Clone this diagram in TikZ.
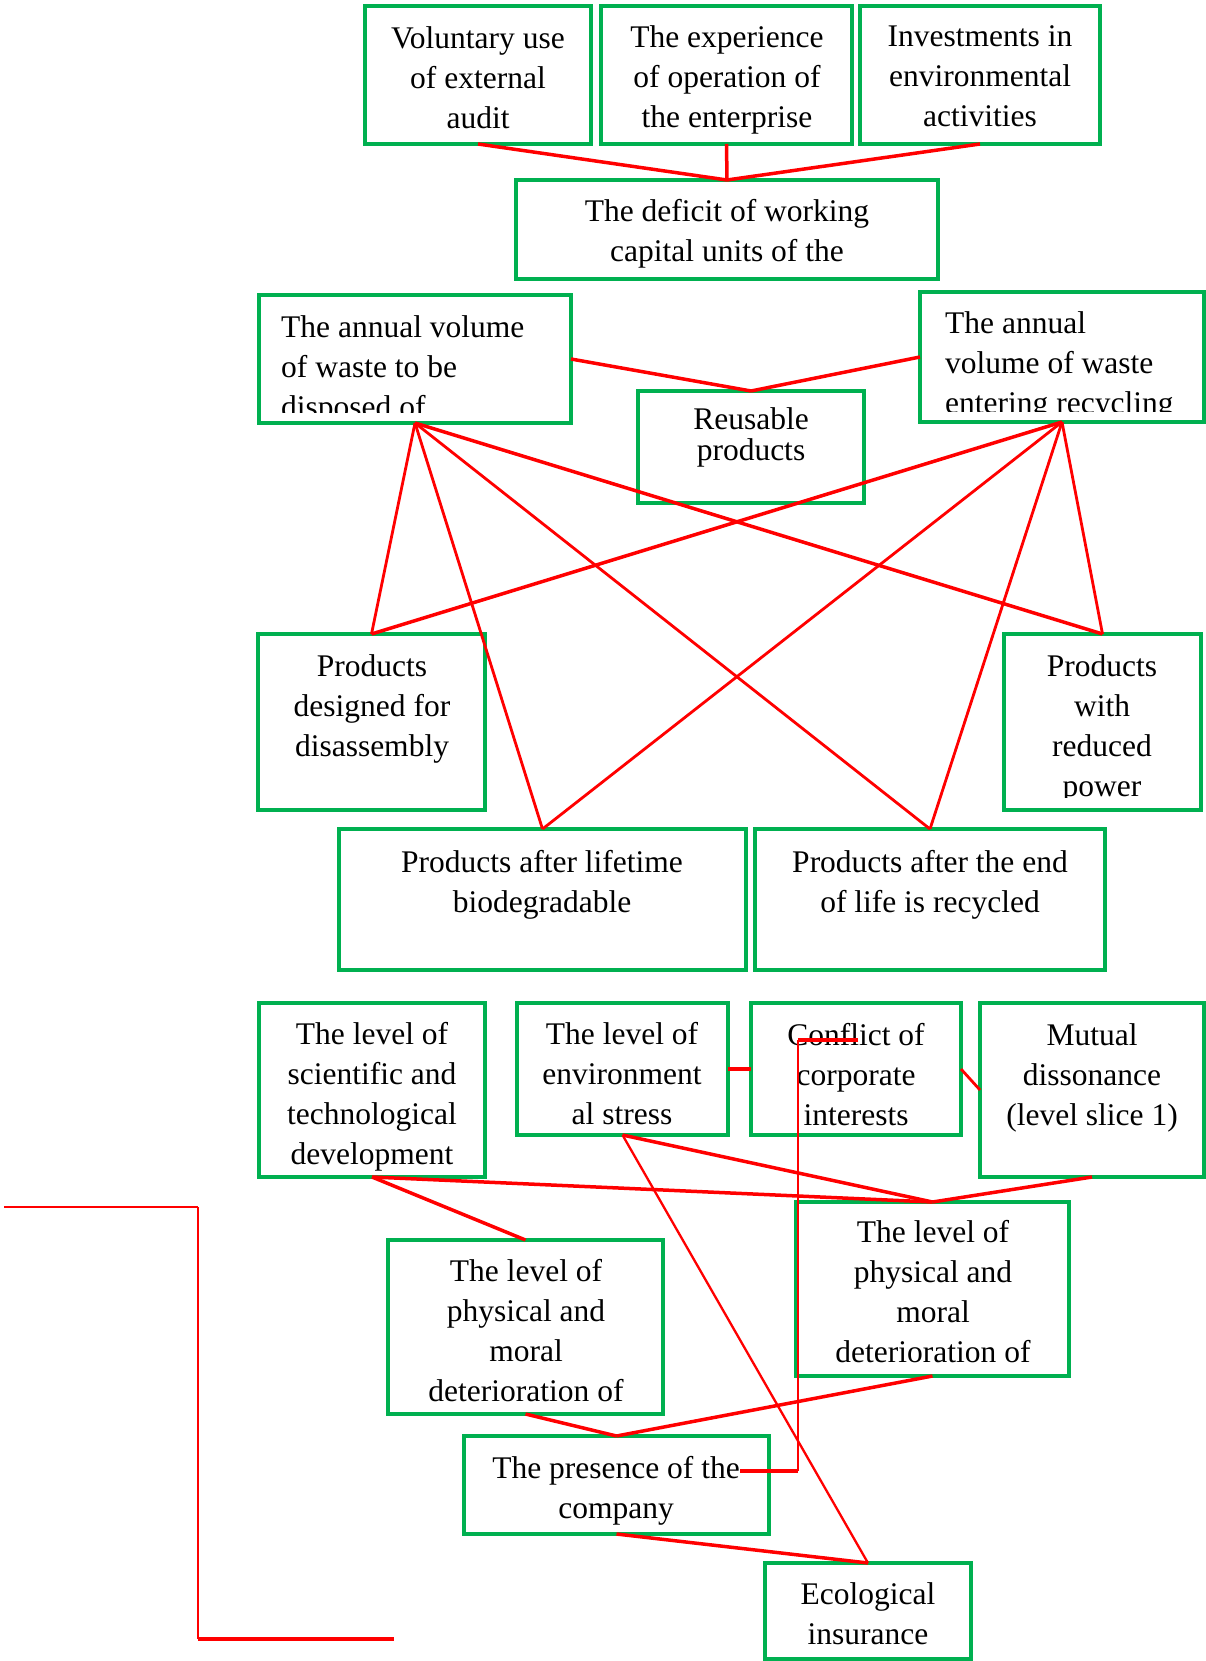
\documentclass[tikz,border=0pt]{standalone}
\usepackage{fontspec}
\setmainfont{Liberation Serif}
\usetikzlibrary{fit}
\definecolor{bgreen}{RGB}{0,176,80}
\begin{document}
\begin{tikzpicture}[x=1pt,y=-1pt,
  box/.style={draw=bgreen, line width=3.5pt, inner sep=0pt, outer sep=0pt},
  txt/.style={align=center, inner sep=0pt, font=\fontsize{31.5}{40}\selectfont},
  link/.style={draw=red, line width=3.5pt},
  midlink/.style={draw=red, line width=2.8pt},
  thinlink/.style={draw=red, line width=2.3pt}]
\useasboundingbox (0,0) rectangle (1206,1661);
% boxes
\node[box, fit={(365,6) (591,144)}] (A) {};
\node[box, fit={(601,6) (852,144)}] (B) {};
\node[box, fit={(860,6) (1100,144)}] (C) {};
\node[box, fit={(516,180) (938,279)}] (D) {};
\node[box, fit={(259,295) (571,423)}] (E) {};
\node[box, fit={(920,292) (1204,422)}] (F) {};
\node[box, fit={(638,391) (864,503)}] (G) {};
\node[box, fit={(258,634) (485,810)}] (H) {};
\node[box, fit={(1004,634) (1201,810)}] (K) {};
\node[box, fit={(339,829) (746,970)}] (I) {};
\node[box, fit={(755,829) (1105,970)}] (J) {};
\node[box, fit={(259,1003) (485,1177)}] (L) {};
\node[box, fit={(517,1003) (728,1135)}] (M) {};
\node[box, fit={(751,1003) (961,1135)}] (N) {};
\node[box, fit={(980,1003) (1204,1177)}] (O) {};
\node[box, fit={(796,1202) (1069,1376)}] (Q) {};
\node[box, fit={(388,1240) (663,1414)}] (P) {};
\node[box, fit={(464,1436) (769,1534)}] (R) {};
\node[box, fit={(765,1563) (971,1659)}] (S) {};
% texts
\node[txt] (At) at (478,78) {Voluntary use\\of external\\audit};
\node[txt] (Bt) at (727,80) {The experience\\of operation of\\the enterprise};
\node[txt] (Ct) at (980,76) {Investments in\\environmental\\activities};
\node[txt] (Dt) at (727,234) {The deficit of working\\capital units of the};
\begin{scope}
\clip (259,295) rectangle (571,412);
\node[txt, align=left, anchor=west] (Et) at (281,370) {The annual volume\\of waste to be\\disposed of};
\end{scope}
\begin{scope}
\clip (920,292) rectangle (1204,411);
\node[txt, align=left, anchor=west] (Ft) at (945,366) {The annual\\volume of waste\\entering recycling};
\end{scope}
\node[txt, font=\fontsize{31.5}{31}\selectfont] (Gt) at (751,437) {Reusable\\products};
\node[txt] (Ht) at (372,709) {Products\\designed for\\disassembly};
\begin{scope}
\clip (1004,634) rectangle (1201,797);
\node[txt] (Kt) at (1102,729) {Products\\with\\reduced\\power};
\end{scope}
\node[txt] (It) at (542,885) {Products after lifetime\\biodegradable};
\node[txt] (Jt) at (930,885) {Products after the end\\of life is recycled};
\node[txt] (Lt) at (372,1097) {The level of\\scientific and\\technological\\development};
\node[txt] (Mt) at (622,1074) {The level of\\environment\\al stress};
\node[txt] (Nt) at (856,1075) {Conflict of\\corporate\\interests};
\node[txt] (Ot) at (1092,1078) {Mutual\\dissonance\\(level slice 1)};
\node[txt] (Qt) at (933,1292) {The level of\\physical and\\moral\\deterioration of};
\node[txt] (Pt) at (526,1331) {The level of\\physical and\\moral\\deterioration of};
\node[txt] (Rt) at (616,1491) {The presence of the\\company};
\node[txt] (St) at (868,1614) {Ecological\\insurance};
% connectors
\draw[link] (A.south) -- (D.north);
\draw[link] (B.south) -- (D.north);
\draw[link] (C.south) -- (D.north);
\draw[link] (E.east) -- (G.north);
\draw[link] (F.west) -- (G.north);
\draw[midlink] (E.south) -- (H.north);
\draw[midlink] (E.south) -- (I.north);
\draw[midlink] (E.south) -- (J.north);
\draw[link] (E.south) -- (K.north);
\draw[link] (F.south) -- (H.north);
\draw[midlink] (F.south) -- (I.north);
\draw[midlink] (F.south) -- (J.north);
\draw[midlink] (F.south) -- (K.north);
\draw[link] (M.east) -- (N.west);
\draw[midlink] (N.east) -- (O.west);
\draw[link] (L.south) -- (Q.north);
\draw[link] (L.south) -- (P.north);
\draw[link] (M.south) -- (Q.north);
\draw[thinlink] (M.south) -- (S.north);
\draw[link] (O.south) -- (Q.north);
\draw[link] (P.south) -- (R.north);
\draw[link] (Q.south) -- (R.north);
\draw[link] (R.south) -- (S.north);
% free elbows
\coordinate (e1a) at (858,1040);
\coordinate (e1b) at (798,1040);
\coordinate (e1c) at (798,1471);
\coordinate (e1d) at (740,1471);
\draw[link] (e1a) -- (e1b);
\draw[thinlink] (e1b) -- (e1c);
\draw[link] (e1c) -- (e1d);
\coordinate (e2a) at (4,1207);
\coordinate (e2b) at (198,1207);
\coordinate (e2c) at (198,1639);
\coordinate (e2d) at (394,1639);
\draw[midlink] (e2a) -- (e2b);
\draw[thinlink] (e2b) -- (e2c);
\draw[link] (e2c) -- (e2d);
\end{tikzpicture}
\end{document}
